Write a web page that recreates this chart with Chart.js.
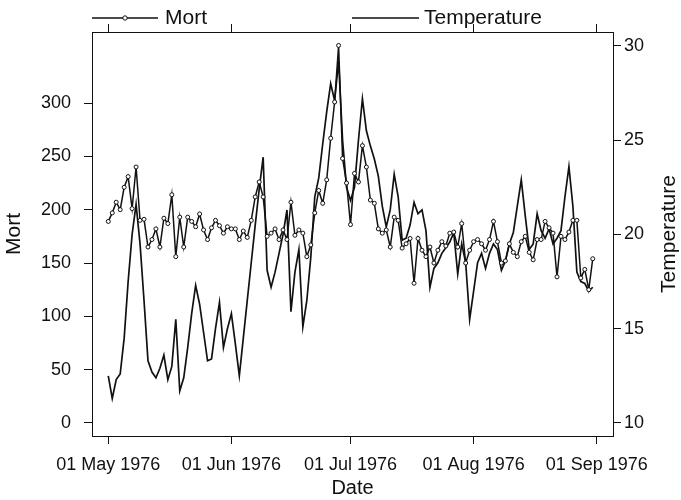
<!DOCTYPE html>
<html>
<head>
<meta charset="utf-8">
<script src="https://cdn.jsdelivr.net/npm/chart.js@4.4.1/dist/chart.umd.min.js"></script>
<style>
  html, body { margin: 0; padding: 0; background: #fff; }
  canvas { display: block; }
</style>
</head>
<body>
<canvas id="mortTemp" width="681" height="500"></canvas>
<script>
// daily values, 01 May 1976 (day 0) to 31 Aug 1976
const mort = [
  189, 197, 207, 200, 221, 231, 201, 240, 190, 191,
  165, 172, 182, 165, 192, 187, 214, 156, 193, 165,
  193, 189, 184, 196, 181, 172, 183, 190, 185, 178,
  184, 182, 182, 172, 180, 174, 190, 212, 226, 212,
  175, 178, 182, 172, 181, 172, 207, 176, 181, 178,
  156, 167, 197, 218, 206, 228, 267, 301, 354, 248,
  225, 186, 234, 226, 260, 240, 209, 206, 182, 178,
  181, 165, 193, 190, 164, 168, 173, 131, 173, 162,
  156, 165, 150, 162, 170, 166, 178, 179, 165, 187,
  150, 162, 170, 172, 168, 162, 172, 189, 170, 150,
  152, 168, 160, 156, 170, 175, 160, 153, 172, 172,
  189, 183, 178, 137, 175, 172, 179, 190, 190, 136,
  144, 125, 154
];
const temperature = [
  12.5, 11.3, 12.3, 12.6, 14.5, 17.5, 20.0, 21.6, 19.5, 16.5,
  13.3, 12.7, 12.4, 12.9, 13.6, 12.3, 13.0, 15.5, 11.7, 12.4,
  14.0, 15.8, 17.3, 16.3, 14.8, 13.3, 13.4, 15.0, 16.4, 14.0,
  15.0, 15.8, 14.2, 12.5, 14.5, 16.5, 18.5, 20.5, 22.4, 24.1,
  18.1, 17.2, 18.0, 19.0, 20.0, 21.3, 15.9, 18.0, 19.2, 15.1,
  16.5, 18.8, 22.0, 23.0, 24.8, 26.5, 28.0, 27.1, 29.2, 25.0,
  22.5, 21.8, 22.5, 25.0, 27.2, 25.5, 24.7, 24.0, 23.1, 21.5,
  20.4, 21.3, 23.2, 22.0, 19.7, 19.8, 20.5, 21.7, 21.1, 21.3,
  20.2, 17.2, 18.2, 18.5, 19.0, 19.3, 19.6, 20.1, 17.9, 19.5,
  18.5, 15.5, 17.0, 18.5, 19.0, 18.2, 19.0, 19.5, 19.2, 18.1,
  18.6, 19.5, 20.1, 21.5, 22.9, 21.0, 19.2, 19.5, 21.1, 20.2,
  19.8, 20.3, 19.5, 19.8, 20.2, 22.0, 23.6, 21.5, 18.0, 17.5,
  17.4, 17.0, 17.2
];
const dateTicks = [0, 31, 61, 92, 123];
const dateLabels = ['01 May 1976', '01 Jun 1976', '01 Jul 1976', '01 Aug 1976', '01 Sep 1976'];
const mortTicks = [0, 50, 100, 150, 200, 250, 300];
const tempTicks = [10, 15, 20, 25, 30];

const ink = '#111';
const fontFamily = "'Liberation Sans', Arial, Helvetica, sans-serif";

// lattice-style key above the panel, plus the right-hand axis label
const keyPlugin = {
  id: 'key',
  afterDraw(chart) {
    const ctx = chart.ctx;
    const y = 18;
    ctx.save();
    ctx.strokeStyle = ink;
    ctx.lineWidth = 1.5;
    ctx.beginPath();
    ctx.moveTo(92, y); ctx.lineTo(158, y);
    ctx.moveTo(352, y); ctx.lineTo(419, y);
    ctx.stroke();
    ctx.beginPath();
    ctx.arc(125, y, 2.2, 0, Math.PI * 2);
    ctx.fillStyle = '#fff';
    ctx.fill();
    ctx.lineWidth = 1;
    ctx.stroke();
    ctx.fillStyle = ink;
    ctx.font = '21px ' + fontFamily;
    ctx.textBaseline = 'middle';
    ctx.textAlign = 'left';
    ctx.fillText('Mort', 165, y);
    ctx.fillText('Temperature', 424, y);

    // right ylab reads bottom to top like the left one
    const area = chart.chartArea;
    ctx.translate(669, (area.top + area.bottom) / 2);
    ctx.rotate(-Math.PI / 2);
    ctx.textAlign = 'center';
    ctx.font = '21px ' + fontFamily;
    ctx.fillText('Temperature', 0, 0);
    ctx.restore();
  }
};

const fixedTicks = (values) => (scale) => {
  scale.ticks = values.map(v => ({ value: v }));
};

const axisGrid = { drawOnChartArea: false, color: ink, tickLength: 8, tickWidth: 1 };
const axisBorder = { display: true, color: ink, width: 1 };
const tickFont = { family: fontFamily, size: 18 };
const titleFont = { family: fontFamily, size: 20 };

new Chart(document.getElementById('mortTemp'), {
  type: 'line',
  data: {
    datasets: [
      {
        label: 'Mort',
        data: mort.map((v, i) => ({ x: i, y: v })),
        xAxisID: 'x',
        yAxisID: 'y',
        borderColor: ink,
        borderWidth: 1.5,
        pointRadius: 2,
        pointBorderWidth: 1,
        pointBackgroundColor: '#fff',
        pointBorderColor: ink,
        tension: 0
      },
      {
        label: 'Temperature',
        data: temperature.map((v, i) => ({ x: i, y: v })),
        xAxisID: 'x',
        yAxisID: 'y1',
        borderColor: ink,
        borderWidth: 1.7,
        pointRadius: 0,
        tension: 0
      }
    ]
  },
  options: {
    responsive: false,
    animation: false,
    layout: { padding: 0 },
    plugins: {
      legend: { display: false },
      tooltip: { enabled: false }
    },
    scales: {
      x: {
        type: 'linear',
        position: 'bottom',
        min: -4.1,
        max: 127.1,
        afterBuildTicks: fixedTicks(dateTicks),
        afterFit: (s) => { s.height = 64; },
        ticks: {
          callback: (v) => dateLabels[dateTicks.indexOf(v)],
          autoSkip: false,
          maxRotation: 0,
          color: ink,
          font: tickFont,
          padding: 10
        },
        grid: axisGrid,
        border: axisBorder,
        title: { display: true, text: 'Date', color: ink, font: titleFont, padding: { top: 0, bottom: 0 } }
      },
      x2: {
        type: 'linear',
        position: 'top',
        min: -4.1,
        max: 127.1,
        afterBuildTicks: fixedTicks(dateTicks),
        afterFit: (s) => { s.height = 32; },
        ticks: { callback: () => '', padding: 0 },
        grid: axisGrid,
        border: axisBorder
      },
      y: {
        type: 'linear',
        position: 'left',
        min: -12.2,
        max: 366.6,
        afterBuildTicks: fixedTicks(mortTicks),
        afterFit: (s) => { s.width = 92; },
        ticks: { color: ink, font: tickFont, padding: 13 },
        grid: axisGrid,
        border: axisBorder,
        title: { display: true, text: 'Mort', color: ink, font: { family: fontFamily, size: 21 }, padding: { top: 2, bottom: 0 } }
      },
      y1: {
        type: 'linear',
        position: 'right',
        min: 9.31,
        max: 30.74,
        afterBuildTicks: fixedTicks(tempTicks),
        afterFit: (s) => { s.width = 68; },
        ticks: { color: ink, font: tickFont, padding: 3 },
        grid: axisGrid,
        border: axisBorder
      }
    }
  },
  plugins: [keyPlugin]
});
</script>
</body>
</html>
